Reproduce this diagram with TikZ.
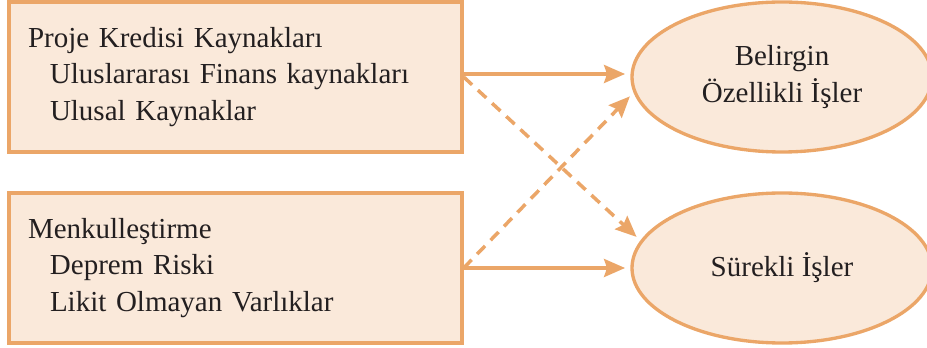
\documentclass[tikz,border=0pt]{standalone}
\usepackage{fontspec}
\setmainfont{Liberation Serif}
\usetikzlibrary{arrows.meta, shapes.geometric}
\definecolor{turuncu}{RGB}{235, 166, 104}
\definecolor{krem}{RGB}{250, 233, 218}
\definecolor{yazi}{RGB}{35, 31, 32}

\begin{document}
\begin{tikzpicture}[
	kutu/.style={draw=turuncu, fill=krem, line width=1.9pt, text=yazi,
		text width=8.3cm, inner xsep=0.38cm, minimum height=3cm, align=left,
		font=\fontsize{16.5}{21}\selectfont},
	elips/.style={draw=turuncu, fill=krem, line width=1.9pt, text=yazi,
		ellipse, minimum width=6cm, minimum height=3cm, align=center,
		font=\fontsize{16.5}{21}\selectfont},
	ok/.style={draw=turuncu, line width=2pt, shorten >=3pt,
		-{Stealth[length=0.42cm, width=0.36cm, inset=0.06cm]}},
	kesik/.style={ok, dash pattern=on 6.5pt off 4.5pt}
]
	\useasboundingbox (0,0) rectangle (18.54,6.96);

	% kaynaklar
	\node[kutu] (proje) at (4.71,5.42) {Proje Kredisi Kaynakları\\
		\hspace*{0.44cm}Uluslararası Finans kaynakları\\
		\hspace*{0.44cm}Ulusal Kaynaklar};
	\node[kutu] (menkul) at (4.71,1.6) {Menkulleştirme\\
		\hspace*{0.44cm}Deprem Riski\\
		\hspace*{0.44cm}Likit Olmayan Varlıklar};

	% isler
	\node[elips] (ozel) at (15.64,5.42) {Belirgin\\Özellikli İşler};
	\node[elips] (surekli) at (15.64,1.6) {Sürekli İşler};

	% oklar
	\draw[ok] ([yshift=0.06cm]proje.east) -- ([yshift=0.06cm]proje.east -| ozel.west);
	\draw[ok] (menkul.east) -- (surekli.west);
	\draw[kesik] (proje.east) -- (surekli.169);
	\draw[kesik] (menkul.east) -- (ozel.186);
\end{tikzpicture}
\end{document}
